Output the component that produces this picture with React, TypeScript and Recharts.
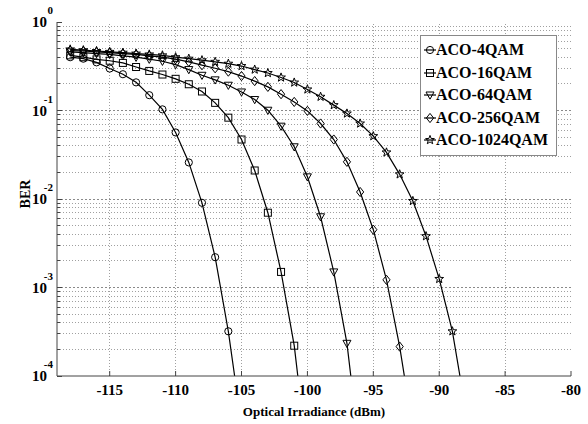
import React from 'react';
import { LineChart, Line, XAxis, YAxis, ReferenceLine, Legend } from 'recharts';

// optical irradiance in dBm, one marker per dB
const irradianceDbm = [
  -118, -117, -116, -115, -114, -113, -112, -111, -110, -109, -108, -107, -106, -105, -104, -103,
  -102, -101, -100, -99, -98, -97, -96, -95, -94, -93, -92, -91, -90, -89, -88,
];

// BER (values below 1e-4 only set where the line leaves the plot)
const ber4qam = [0.4, 0.385, 0.35, 0.298, 0.257, 0.208, 0.149, 0.103, 0.0565, 0.0259, 0.00906, 0.0022, 3.2e-4, 2.8e-5];
const ber16qam = [
  0.42, 0.4, 0.378, 0.365, 0.345, 0.31, 0.28, 0.255, 0.228, 0.198, 0.164, 0.122, 0.083, 0.047, 0.021, 0.007,
  0.0015, 2.2e-4, 1.2e-5,
];
const ber64qam = [
  0.46, 0.45, 0.44, 0.43, 0.415, 0.4, 0.38, 0.36, 0.33, 0.29, 0.25, 0.222, 0.193, 0.162, 0.133, 0.1007,
  0.0665, 0.0389, 0.0178, 0.0063, 0.0015, 2.34e-4, 1.3e-5,
];
const ber256qam = [
  0.475, 0.47, 0.46, 0.45, 0.44, 0.43, 0.415, 0.4, 0.38, 0.355, 0.325, 0.3, 0.275, 0.245, 0.215, 0.185,
  0.153, 0.125, 0.099, 0.0713, 0.047, 0.0263, 0.012, 0.0045, 0.00122, 2.15e-4, 2.5e-5,
];
const ber1024qam = [
  0.49, 0.48, 0.47, 0.46, 0.45, 0.44, 0.43, 0.42, 0.4, 0.385, 0.37, 0.355, 0.338, 0.318, 0.29, 0.265,
  0.236, 0.207, 0.173, 0.143, 0.115, 0.0925, 0.0713, 0.0513, 0.0336, 0.019, 0.0095, 0.0038, 0.00125, 3.2e-4, 4.2e-5,
];

const seriesNames = ['ACO-4QAM', 'ACO-16QAM', 'ACO-64QAM', 'ACO-256QAM', 'ACO-1024QAM'];
const seriesKeys = ['q4', 'q16', 'q64', 'q256', 'q1024'];
const seriesShapes = ['circle', 'square', 'triangle', 'diamond', 'star'];
const seriesValues = [ber4qam, ber16qam, ber64qam, ber256qam, ber1024qam];

const xTicks = [-115, -110, -105, -100, -95, -90, -85, -80];
const yMajorTicks = [1e-4, 1e-3, 1e-2, 1e-1, 1];
const yMinorTicks = [
  2e-4, 3e-4, 4e-4, 5e-4, 6e-4, 7e-4, 8e-4, 9e-4,
  2e-3, 3e-3, 4e-3, 5e-3, 6e-3, 7e-3, 8e-3, 9e-3,
  2e-2, 3e-2, 4e-2, 5e-2, 6e-2, 7e-2, 8e-2, 9e-2,
  0.2, 0.3, 0.4, 0.5, 0.6, 0.7, 0.8, 0.9,
];
const yAllTicks = [...yMajorTicks, ...yMinorTicks].sort((a, b) => a - b);

const data = irradianceDbm.map((x, i) => {
  const row: Record<string, number | null> = { x };
  seriesKeys.forEach((k, s) => {
    row[k] = seriesValues[s][i] ?? null;
  });
  return row;
});

const FONT = "'Liberation Serif', 'Times New Roman', serif";
const AXIS = '#444';

const Marker = ({ shape, cx, cy }: { shape: string; cx: number; cy: number }) => {
  const st = { fill: 'none', stroke: '#000', strokeWidth: 1 };
  if (shape === 'circle') return <circle cx={cx} cy={cy} r={3.6} {...st} />;
  if (shape === 'square') return <rect x={cx - 3.5} y={cy - 3.5} width={7} height={7} {...st} />;
  if (shape === 'triangle')
    return <polygon points={`${cx - 4},${cy - 3} ${cx + 4},${cy - 3} ${cx},${cy + 4.2}`} {...st} />;
  if (shape === 'diamond')
    return <polygon points={`${cx},${cy - 4.6} ${cx + 3.6},${cy} ${cx},${cy + 4.6} ${cx - 3.6},${cy}`} {...st} />;
  const pts: string[] = [];
  for (let k = 0; k < 10; k++) {
    const r = k % 2 === 0 ? 4.6 : 1.9;
    const a = -Math.PI / 2 + (k * Math.PI) / 5;
    pts.push(`${cx + r * Math.cos(a)},${cy + r * Math.sin(a)}`);
  }
  return <polygon points={pts.join(' ')} {...st} />;
};

const isMajor = (v: number) => yMajorTicks.some((m) => Math.abs(m - v) / m < 1e-6);

const BottomTick = ({ x, y, payload }: any) => (
  <g>
    <line x1={x} x2={x} y1={y} y2={y - 5} stroke={AXIS} />
    <text x={x} y={y + 19} textAnchor="middle" fontFamily={FONT} fontWeight="bold" fontSize={15} fill="#000">
      {payload.value}
    </text>
  </g>
);

const TopTick = ({ x, y }: any) => <line x1={x} x2={x} y1={y} y2={y + 5} stroke={AXIS} />;

const LeftTick = ({ x, y, payload }: any) => {
  const major = isMajor(payload.value);
  const exp = Math.round(Math.log10(payload.value));
  return (
    <g>
      <line x1={x} x2={x + (major ? 5 : 3)} y1={y} y2={y} stroke={AXIS} shapeRendering="crispEdges" />
      {major && (
        <text fontFamily={FONT} fontWeight="bold" fill="#000">
          <tspan x={x - 10} y={y + 5} textAnchor="end" fontSize={15}>
            10
          </tspan>
          <tspan x={x - 4} y={y - 8} textAnchor="end" fontSize={11}>
            {String(exp)}
          </tspan>
        </text>
      )}
    </g>
  );
};

const RightTick = ({ x, y, payload }: any) => (
  <line x1={x} x2={x - (isMajor(payload.value) ? 5 : 3)} y1={y} y2={y} stroke={AXIS} shapeRendering="crispEdges" />
);

const LegendBox = () => (
  <div
    style={{
      background: '#fff',
      border: '1px solid #888',
      width: 135,
      padding: '3px 0 3px 0',
      fontFamily: FONT,
      fontWeight: 'bold',
      fontSize: 16,
    }}
  >
    {seriesNames.map((name, i) => (
      <div key={name} style={{ display: 'flex', alignItems: 'center', height: 22.5 }}>
        <svg width={13} height={14} style={{ marginLeft: 2 }}>
          <line x1={1} x2={13} y1={7} y2={7} stroke="#000" strokeWidth={1.2} />
          <Marker shape={seriesShapes[i]} cx={7} cy={7} />
        </svg>
        <span style={{ color: '#000', whiteSpace: 'nowrap' }}>{name}</span>
      </div>
    ))}
  </div>
);

export default function App() {
  return (
    <div style={{ position: 'absolute', left: 0, top: 0, width: 588, height: 424, background: '#fff' }}>
      <LineChart width={588} height={424} data={data} margin={{ top: 22, right: 17, bottom: 0, left: 0 }}>
        {yMinorTicks.map((v) => (
          <ReferenceLine
            key={`ym${v}`}
            y={v}
            stroke="#a0a0a0"
            strokeDasharray="1 2"
            shapeRendering="crispEdges"
          />
        ))}
        {yMajorTicks.slice(1, 4).map((v) => (
          <ReferenceLine key={`yM${v}`} y={v} stroke="#8a8a8a" strokeDasharray="2 2" shapeRendering="crispEdges" />
        ))}
        {xTicks.slice(0, -1).map((v) => (
          <ReferenceLine key={`x${v}`} x={v} stroke="#a0a0a0" strokeDasharray="1 2" shapeRendering="crispEdges" />
        ))}
        <XAxis
          dataKey="x"
          type="number"
          domain={[-119, -80]}
          ticks={xTicks}
          interval={0}
          allowDataOverflow
          height={48}
          tickSize={0}
          tickMargin={0}
          tickLine={false}
          axisLine={{ stroke: AXIS }}
          tick={BottomTick}
          label={{
            content: ({ viewBox }: any) => (
              <text
                x={(viewBox?.x ?? 57) + (viewBox?.width ?? 514) / 2}
                y={(viewBox?.y ?? 376) + 40}
                textAnchor="middle"
                fontFamily={FONT}
                fontWeight="bold"
                fontSize={13}
                fill="#000"
              >
                Optical Irradiance (dBm)
              </text>
            ),
          }}
        />
        <XAxis
          xAxisId="top"
          orientation="top"
          type="number"
          domain={[-119, -80]}
          ticks={xTicks}
          interval={0}
          allowDataOverflow
          height={0}
          tickSize={0}
          tickMargin={0}
          tickLine={false}
          axisLine={{ stroke: AXIS }}
          tick={TopTick}
        />
        <YAxis
          scale="log"
          type="number"
          domain={[1e-4, 1]}
          ticks={yAllTicks}
          interval={0}
          allowDataOverflow
          width={57}
          tickSize={0}
          tickMargin={0}
          tickLine={false}
          axisLine={{ stroke: AXIS }}
          tick={LeftTick}
          label={{
            content: ({ viewBox }: any) => {
              const lx = (viewBox?.x ?? 0) + 30;
              const ly = 194;
              return (
                <text
                  x={lx}
                  y={ly}
                  transform={`rotate(-90 ${lx} ${ly})`}
                  textAnchor="middle"
                  fontFamily={FONT}
                  fontWeight="bold"
                  fontSize={14}
                  fill="#000"
                >
                  BER
                </text>
              );
            },
          }}
        />
        <YAxis
          yAxisId="right"
          orientation="right"
          scale="log"
          type="number"
          domain={[1e-4, 1]}
          ticks={yAllTicks}
          interval={0}
          allowDataOverflow
          width={0}
          tickSize={0}
          tickMargin={0}
          tickLine={false}
          axisLine={{ stroke: AXIS }}
          tick={RightTick}
        />
        {seriesKeys.map((k, s) => (
          <Line
            key={k}
            dataKey={k}
            name={seriesNames[s]}
            stroke="#000"
            strokeWidth={1.2}
            isAnimationActive={false}
            activeDot={false}
            dot={(p: any) =>
              p.cy == null || p.value == null ? (
                <g key={`${k}-${p.index}`} />
              ) : (
                <Marker key={`${k}-${p.index}`} shape={seriesShapes[s]} cx={p.cx} cy={p.cy} />
              )
            }
          />
        ))}
        <Legend
          layout="vertical"
          align="center"
          verticalAlign="middle"
          content={() => <LegendBox />}
          wrapperStyle={{ left: 420, top: 35, width: 137, height: 118 }}
        />
      </LineChart>
    </div>
  );
}
